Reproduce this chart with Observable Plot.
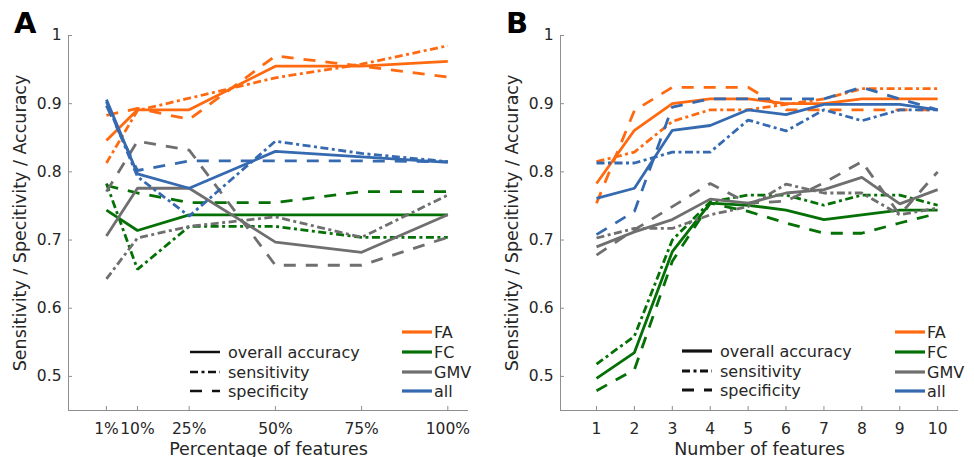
<!DOCTYPE html>
<html><head><meta charset="utf-8">
<script src="https://cdn.jsdelivr.net/npm/d3@7"></script>
<script src="https://cdn.jsdelivr.net/npm/@observablehq/plot@0.6"></script>
<style>
body{margin:0;background:#fff;}
#fig{position:relative;width:974px;height:457px;font-family:"DejaVu Sans",sans-serif;background:#fff;overflow:hidden;}
.panel{position:absolute;top:0;}
.letter{position:absolute;font-weight:bold;font-size:29px;line-height:1;color:#000;}
#overlay{position:absolute;left:0;top:0;}
</style></head><body><div id="fig"></div>
<script>
// ---------- data ----------
const groups = ["FA", "FC", "GMV", "all"];
const groupColors = ["#ff6a10", "#057005", "#6f6f6f", "#3569b0"];
const metrics = ["overall accuracy", "sensitivity", "specificity"];

// Panel A: percentage of features
const pctX = [1, 10, 25, 50, 75, 100];
const pctTickLabels = ["1%", "10%", "25%", "50%", "75%", "100%"];
const A_FA_acc  = [0.846, 0.891, 0.891, 0.955, 0.955, 0.962];
const A_FA_sens = [0.813, 0.890, 0.908, 0.938, 0.958, 0.985];
const A_FA_spec = [0.883, 0.893, 0.877, 0.970, 0.955, 0.939];
const A_FC_acc  = [0.744, 0.714, 0.737, 0.737, 0.737, 0.737];
const A_FC_sens = [0.783, 0.657, 0.720, 0.720, 0.704, 0.704];
const A_FC_spec = [0.780, 0.769, 0.755, 0.755, 0.771, 0.771];
const A_GMV_acc  = [0.706, 0.776, 0.776, 0.697, 0.682, 0.737];
const A_GMV_sens = [0.643, 0.703, 0.720, 0.734, 0.704, 0.766];
const A_GMV_spec = [0.771, 0.845, 0.832, 0.663, 0.663, 0.704];
const A_all_acc  = [0.906, 0.797, 0.776, 0.830, 0.822, 0.814];
const A_all_sens = [0.903, 0.793, 0.735, 0.845, 0.827, 0.815];
const A_all_spec = [0.897, 0.802, 0.816, 0.816, 0.816, 0.815];

// Panel B: number of features
const nX = [1, 2, 3, 4, 5, 6, 7, 8, 9, 10];
const nTickLabels = ["1", "2", "3", "4", "5", "6", "7", "8", "9", "10"];
const B_FA_acc  = [0.783, 0.861, 0.900, 0.907, 0.907, 0.900, 0.900, 0.907, 0.907, 0.907];
const B_FA_sens = [0.815, 0.829, 0.874, 0.891, 0.891, 0.899, 0.907, 0.922, 0.922, 0.922];
const B_FA_spec = [0.754, 0.890, 0.924, 0.924, 0.924, 0.891, 0.891, 0.891, 0.891, 0.891];
const B_FC_acc  = [0.497, 0.535, 0.683, 0.754, 0.751, 0.744, 0.730, 0.737, 0.744, 0.744];
const B_FC_sens = [0.518, 0.559, 0.700, 0.756, 0.766, 0.766, 0.751, 0.766, 0.766, 0.751];
const B_FC_spec = [0.479, 0.510, 0.669, 0.754, 0.742, 0.725, 0.710, 0.710, 0.725, 0.739];
const B_GMV_acc  = [0.690, 0.712, 0.730, 0.760, 0.754, 0.769, 0.774, 0.792, 0.753, 0.774];
const B_GMV_sens = [0.703, 0.717, 0.717, 0.737, 0.749, 0.782, 0.769, 0.769, 0.737, 0.747];
const B_GMV_spec = [0.678, 0.715, 0.749, 0.783, 0.754, 0.757, 0.784, 0.815, 0.737, 0.800];
const B_all_acc  = [0.761, 0.776, 0.861, 0.868, 0.891, 0.884, 0.899, 0.899, 0.899, 0.891];
const B_all_sens = [0.813, 0.813, 0.829, 0.829, 0.876, 0.860, 0.891, 0.875, 0.891, 0.891];
const B_all_spec = [0.708, 0.742, 0.895, 0.907, 0.907, 0.907, 0.907, 0.924, 0.907, 0.891];

const yTicks = [0.5, 0.6, 0.7, 0.8, 0.9, 1];
const yTickLabels = ["0.5", "0.6", "0.7", "0.8", "0.9", "1"];
const yLabel = "Sensitivity / Specitivity / Accuracy";

// ---------- styling ----------
const metricDash = {"overall accuracy": null, "sensitivity": "8,3.5,3,3.5", "specificity": "12,10"};
const axisColor = "#8f8f8f";
const textColor = "#262626";
const LW = 2.8;

function table(xs, seriesList) {
  const out = [];
  for (const [group, metric, vals] of seriesList)
    vals.forEach((v, i) => out.push({x: xs[i], v, group, metric}));
  return out;
}
const dataA = table(pctX, [
  ["FA", "overall accuracy", A_FA_acc], ["FA", "sensitivity", A_FA_sens], ["FA", "specificity", A_FA_spec],
  ["FC", "overall accuracy", A_FC_acc], ["FC", "sensitivity", A_FC_sens], ["FC", "specificity", A_FC_spec],
  ["GMV", "overall accuracy", A_GMV_acc], ["GMV", "sensitivity", A_GMV_sens], ["GMV", "specificity", A_GMV_spec],
  ["all", "overall accuracy", A_all_acc], ["all", "sensitivity", A_all_sens], ["all", "specificity", A_all_spec]
]);
const dataB = table(nX, [
  ["FA", "overall accuracy", B_FA_acc], ["FA", "sensitivity", B_FA_sens], ["FA", "specificity", B_FA_spec],
  ["FC", "overall accuracy", B_FC_acc], ["FC", "sensitivity", B_FC_sens], ["FC", "specificity", B_FC_spec],
  ["GMV", "overall accuracy", B_GMV_acc], ["GMV", "sensitivity", B_GMV_sens], ["GMV", "specificity", B_GMV_spec],
  ["all", "overall accuracy", B_all_acc], ["all", "sensitivity", B_all_sens], ["all", "specificity", B_all_spec]
]);

function panel(data, xTicks, xTickLabels, xDomain, xLabel, margins) {
  const lineMarks = [];
  for (const g of groups) for (const m of metrics) {
    lineMarks.push(Plot.line(data.filter(d => d.group === g && d.metric === m), {
      x: "x", y: "v", stroke: "group", strokeWidth: LW,
      strokeDasharray: metricDash[m], strokeLinejoin: "miter", strokeLinecap: "butt"
    }));
  }
  return Plot.plot({
    width: 487, height: 457,
    ...margins,
    x: {domain: xDomain},
    y: {domain: [0.45, 1]},
    color: {domain: groups, range: groupColors},
    style: {fontFamily: "DejaVu Sans", fontSize: "15.5px", color: textColor, background: "transparent", overflow: "visible"},
    marks: [
      Plot.ruleX([xDomain[0]], {stroke: axisColor, strokeWidth: 1}),
      Plot.ruleY([0.45], {stroke: axisColor, strokeWidth: 1}),
      Plot.axisX(xTicks, {tickSize: 4, dy: -4, fill: "none", stroke: axisColor, label: null}),
      Plot.axisY(yTicks, {tickSize: 4, dx: 4, fill: "none", stroke: axisColor, label: null}),
      Plot.axisX(xTicks, {tickSize: 0, tickPadding: 12, tickFormat: (d, i) => xTickLabels[i], fill: textColor,
        label: xLabel, labelAnchor: "center", labelOffset: 44, labelArrow: "none", fontSize: 15.5}),
      Plot.axisY(yTicks, {tickSize: 0, tickPadding: 7, tickFormat: (d, i) => yTickLabels[i], fill: textColor,
        label: yLabel, labelAnchor: "center", labelOffset: 55, labelArrow: "none", fontSize: 15.5}),
      ...lineMarks
    ]
  });
}

const fig = document.getElementById("fig");
const pA = document.createElement("div"); pA.className = "panel"; pA.style.left = "0px";
pA.appendChild(panel(dataA, pctX, pctTickLabels, [-10, 106], "Percentage of features",
  {marginLeft: 68, marginRight: 19, marginTop: 35, marginBottom: 47}));
fig.appendChild(pA);
const pB = document.createElement("div"); pB.className = "panel"; pB.style.left = "487px";
pB.appendChild(panel(dataB, nX, nTickLabels, [0.05, 10.55], "Number of features",
  {marginLeft: 73, marginRight: 16, marginTop: 35, marginBottom: 47}));
fig.appendChild(pB);

// label font size for axis titles
for (const svg of fig.querySelectorAll("svg")) {
  svg.querySelectorAll("g[aria-label='x-axis label'] text, g[aria-label='y-axis label'] text").forEach(t => t.setAttribute("font-size", "17.5px"));
}

// panel letters
for (const [txt, left] of [["A", 14], ["B", 506]]) {
  const d = document.createElement("div"); d.className = "letter"; d.textContent = txt;
  d.style.left = left + "px"; d.style.top = "9px"; fig.appendChild(d);
}

// legends (overlay)
const ov = d3.create("svg").attr("id", "overlay").attr("width", 974).attr("height", 457)
  .style("font-family", "DejaVu Sans").style("font-size", "16px");
function legend(styleX, colorX, styleRows, colorRows, lw) {
  metrics.forEach((m, i) => {
    ov.append("line").attr("x1", styleX).attr("x2", styleX + 30).attr("y1", styleRows[i]).attr("y2", styleRows[i])
      .attr("stroke", "#111").attr("stroke-width", lw).attr("stroke-dasharray", metricDash[m]);
    ov.append("text").attr("x", styleX + 38).attr("y", styleRows[i]).attr("dy", "0.35em").attr("fill", textColor).text(m);
  });
  groups.forEach((g, i) => {
    ov.append("line").attr("x1", colorX).attr("x2", colorX + 30).attr("y1", colorRows[i]).attr("y2", colorRows[i])
      .attr("stroke", groupColors[i]).attr("stroke-width", 3.2);
    ov.append("text").attr("x", colorX + 32).attr("y", colorRows[i]).attr("dy", "0.35em").attr("fill", textColor).text(g);
  });
}
legend(190, 402, [352, 372, 391], [332, 352, 372, 391], 2.5);
legend(682, 895, [351, 371, 390], [332, 352, 372, 391], 3.2);
fig.appendChild(ov.node());
</script>
</body></html>
